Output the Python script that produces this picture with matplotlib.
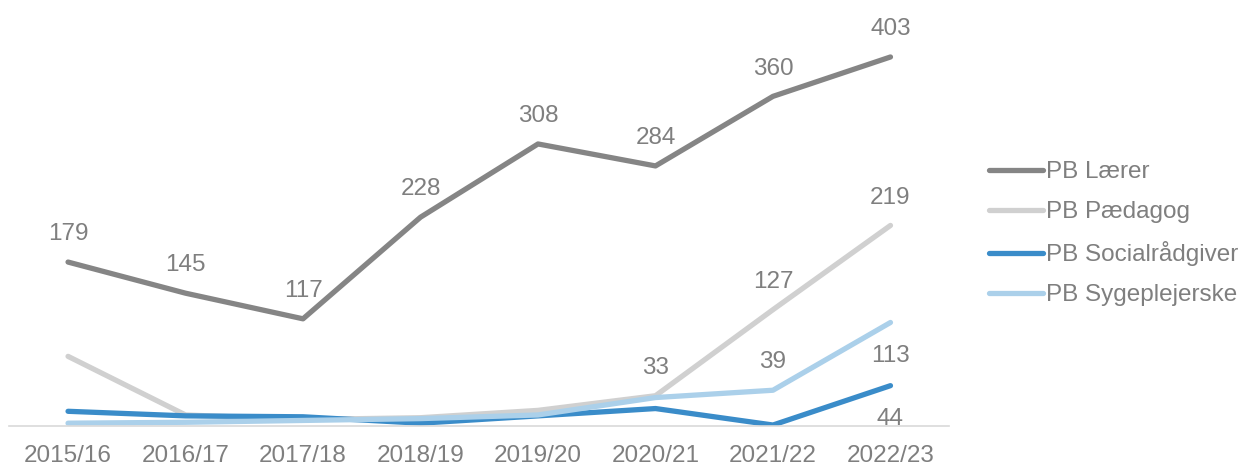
import matplotlib.pyplot as plt

plt.rcParams['font.family'] = ['Liberation Sans', 'DejaVu Sans']

years = ['2015/16', '2016/17', '2017/18', '2018/19',
         '2019/20', '2020/21', '2021/22', '2022/23']

laerer = [179, 145, 117, 228, 308, 284, 360, 403]
paedagog = [76, 12, 7, 9, 17, 33, 127, 219]
socialraadgiver = [16, 11, 10, 3, 11, 19, 1, 44]
sygeplejerske = [3, 4, 6, 8, 12, 31, 39, 113]

TXT = '#7f7f7f'
FS = 17.5

# (label, values, colour, {index: label above (+1) / below (-1)})
series = [
    ('PB Lærer', laerer, '#858585', {i: 1 for i in range(8)}),
    ('PB Pædagog', paedagog, '#d0d0d0', {5: 1, 6: 1, 7: 1}),
    ('PB Socialrådgiver', socialraadgiver, '#3a8cc9', {7: -1}),
    ('PB Sygeplejerske', sygeplejerske, '#abd0ea', {6: 1, 7: -1}),
]

fig = plt.figure(figsize=(12.4, 4.65), dpi=100)
ax = fig.add_axes([0.0075, 0.084, 0.758, 0.886])

x = range(len(years))
for name, vals, col, lab in series:
    ax.plot(x, vals, color=col, lw=3.8, solid_capstyle='round',
            solid_joinstyle='round', label=name)
    for i, side in lab.items():
        off = 20 if side > 0 else -24
        ax.annotate(str(vals[i]), (i, vals[i]), xytext=(0, off),
                    textcoords='offset points', ha='center', va='center',
                    fontsize=FS, color=TXT)

ax.set_xlim(-0.5, 7.5)
ax.set_ylim(0, 450)
ax.set_xticks(list(x))
ax.set_xticklabels(years, fontsize=FS, color=TXT)
ax.tick_params(axis='x', length=0, pad=14)
ax.set_yticks([])
for s in ['top', 'right', 'left']:
    ax.spines[s].set_visible(False)
ax.spines['bottom'].set_color('#d9d9d9')
ax.spines['bottom'].set_linewidth(1.2)

leg = fig.legend(loc='center left', bbox_to_anchor=(0.78, 0.497),
                 frameon=False, fontsize=FS, handlelength=2.2,
                 handletextpad=0.15, labelspacing=0.74)
for t in leg.get_texts():
    t.set_color(TXT)

fig.savefig('out.png', dpi=100)
